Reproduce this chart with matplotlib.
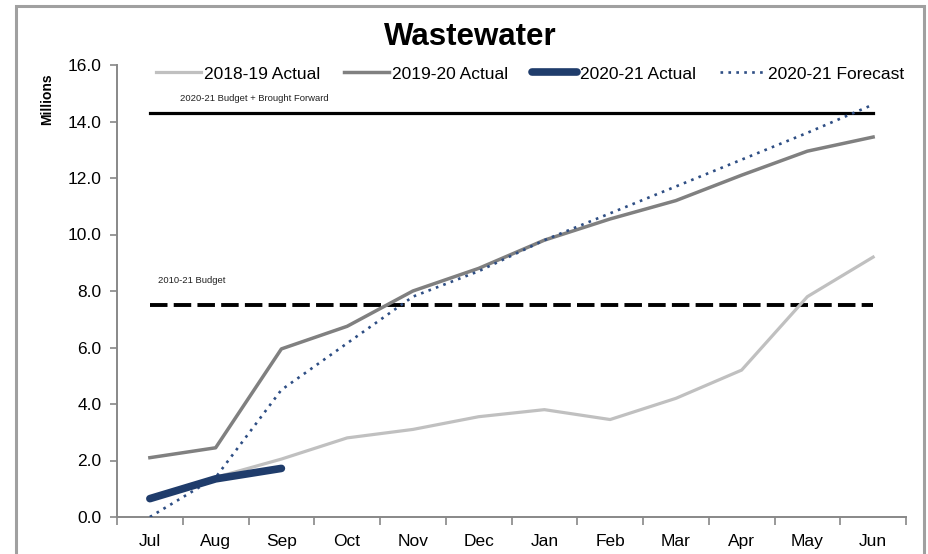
import matplotlib
matplotlib.use("Agg")
import matplotlib.pyplot as plt
from matplotlib.patches import Rectangle

plt.rcParams['font.family'] = ['Liberation Sans', 'DejaVu Sans']

# Data (millions)
months = ["Jul", "Aug", "Sep", "Oct", "Nov", "Dec", "Jan", "Feb", "Mar", "Apr", "May", "Jun"]
actual_1819 = [0.65, 1.4, 2.05, 2.8, 3.1, 3.55, 3.8, 3.45, 4.2, 5.2, 7.8, 9.2]
actual_1920 = [2.1, 2.45, 5.95, 6.75, 8.0, 8.8, 9.8, 10.55, 11.2, 12.1, 12.95, 13.45]
actual_2021 = [0.65, 1.35, 1.72]
forecast_2021 = [0.0, 1.4, 4.5, 6.15, 7.8, 8.7, 9.8, 10.75, 11.7, 12.65, 13.6, 14.6]
budget_bf = 14.3
budget = 7.5

x = list(range(len(months)))

fig = plt.figure(figsize=(9.29, 5.54), dpi=100)
ax = fig.add_axes([117 / 929, 1 - 517 / 554, (906 - 117) / 929, (517 - 65) / 554])

# outer frame
fig.patches.append(Rectangle((16 / 929, -0.2), (924 - 16) / 929, 1.2 - 6 / 554,
                             transform=fig.transFigure, fill=False,
                             edgecolor="#a0a0a0", linewidth=2.2, zorder=0))

ax.plot([x[0], x[-1]], [budget_bf, budget_bf], color="black", lw=2.3, zorder=2)
ax.plot([x[0], x[-1]], [budget, budget], color="black", lw=2.8,
        dashes=(4.5, 1.6), zorder=2)

l1, = ax.plot(x, actual_1819, color="#c0c0c0", lw=2.3, label="2018-19 Actual", zorder=3)
l2, = ax.plot(x, actual_1920, color="#808080", lw=2.5, label="2019-20 Actual", zorder=3)
l4, = ax.plot(x, forecast_2021, color="#2e4e84", lw=1.9, ls=(0, (1, 2)),
              label="2020-21 Forecast", zorder=4)
l3, = ax.plot(x[:len(actual_2021)], actual_2021, color="#1f3c6b", lw=5.5,
              solid_capstyle="round", label="2020-21 Actual", zorder=5)

ax.text(0.46, 14.72, "2020-21 Budget + Brought Forward", fontsize=6.8, color="#222222")
ax.text(0.12, 8.3, "2010-21 Budget", fontsize=6.8, color="#222222")

ax.set_xlim(-0.5, 11.5)
ax.set_ylim(0, 16)
ax.set_yticks(range(0, 17, 2))
ax.set_yticklabels([f"{v:.1f}" for v in range(0, 17, 2)], fontsize=12.5)
ax.set_xticks(x)
ax.set_xticklabels(months, fontsize=12.5)
ax.set_xticks([i - 0.5 for i in range(len(months) + 1)], minor=True)
ax.tick_params(axis="x", which="major", length=0, pad=12)
ax.tick_params(axis="x", which="minor", length=6, color="#888888", width=1.2)
ax.tick_params(axis="y", length=5, color="#888888", width=1.2, pad=6)

for s in ["top", "right"]:
    ax.spines[s].set_visible(False)
for s in ["left", "bottom"]:
    ax.spines[s].set_color("#888888")
    ax.spines[s].set_linewidth(1.4)

fig.text(470 / 929, 1 - 37 / 554, "Wastewater", fontsize=22.5, fontweight="bold",
         ha="center", va="center")
fig.text(47 / 929, 1 - 99 / 554, "Millions", fontsize=10, fontweight="bold",
         rotation=90, ha="center", va="center")

fig.legend(handles=[l1, l2, l3, l4], loc="center", ncol=4, frameon=False,
           bbox_to_anchor=(530 / 929, 1 - 74 / 554), fontsize=12.5,
           handlelength=2.6, handletextpad=0.15, columnspacing=1.4)

fig.savefig("out.png", dpi=100)
